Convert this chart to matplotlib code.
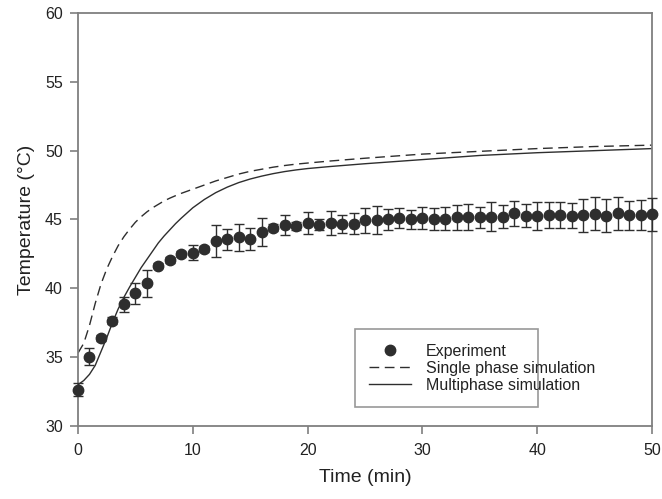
import matplotlib
matplotlib.use("Agg")
import matplotlib.pyplot as plt
from matplotlib.lines import Line2D

plt.rcParams['font.family'] = ['Liberation Sans', 'DejaVu Sans']

# Measured temperatures (mean and half-width of error bar), one reading per minute
time_exp = list(range(0, 51))
temp_exp = [32.65, 35.03, 36.4, 37.65, 38.84, 39.64, 40.36, 41.64, 42.06, 42.5,
            42.6, 42.85, 43.46, 43.55, 43.7, 43.6, 44.1, 44.4, 44.6, 44.5,
            44.75, 44.6, 44.75, 44.67, 44.7, 44.95, 44.95, 45.0, 45.1, 45.0,
            45.1, 45.05, 45.05, 45.15, 45.15, 45.15, 45.2, 45.2, 45.45, 45.27,
            45.25, 45.3, 45.3, 45.27, 45.3, 45.4, 45.27, 45.45, 45.3, 45.35,
            45.37]
err_exp = [0.48, 0.6, 0.2, 0.25, 0.55, 0.75, 1.0, 0.2, 0.2, 0.2,
           0.55, 0.2, 1.15, 0.75, 1.0, 0.8, 1.0, 0.25, 0.75, 0.3,
           0.8, 0.4, 0.9, 0.65, 0.75, 0.9, 1.0, 0.75, 0.7, 0.7,
           0.8, 0.8, 0.85, 0.9, 0.95, 0.75, 1.05, 0.85, 0.9, 0.85,
           1.0, 0.95, 0.95, 0.9, 1.2, 1.2, 1.2, 1.2, 1.05, 1.1,
           1.2]

# Simulation curves
time_sim = [0, 0.5, 1, 1.5, 2, 2.5, 3, 3.5, 4, 4.5, 5, 5.5, 6, 6.5, 7, 7.5,
            8, 8.5, 9, 10, 11, 12, 13, 14, 15, 16, 17, 18, 19, 20, 22, 25,
            30, 35, 40, 45, 50]
temp_single = [35.3, 36.0, 37.3, 38.9, 40.3, 41.4, 42.3, 43.1, 43.75, 44.3,
               44.8, 45.2, 45.55, 45.85, 46.1, 46.35, 46.55, 46.73, 46.9,
               47.2, 47.5, 47.8, 48.05, 48.3, 48.5, 48.65, 48.8, 48.92,
               49.02, 49.1, 49.25, 49.45, 49.75, 49.95, 50.15, 50.3, 50.4]
temp_multi = [33.0, 33.3, 33.75, 34.4, 35.4, 36.4, 37.5, 38.5, 39.35, 40.1,
              40.8, 41.5, 42.1, 42.7, 43.3, 43.8, 44.25, 44.7, 45.1, 45.85,
              46.45, 46.95, 47.35, 47.68, 47.94, 48.15, 48.33, 48.48, 48.6,
              48.7, 48.85, 49.05, 49.35, 49.65, 49.85, 50.0, 50.15]

x_ticks = [0, 10, 20, 30, 40, 50]
y_ticks = [30, 35, 40, 45, 50, 55, 60]

ink = '#2e2e2e'
spine_gray = '#7f7f7f'
text_col = '#222222'
dash_pattern = (0, (7, 4))

fig = plt.figure(figsize=(6.62, 4.99), dpi=100)
ax = fig.add_axes([0.1178, 0.1463, 0.985 - 0.1178, 0.974 - 0.1463])

ax.plot(time_sim, temp_single, linestyle=dash_pattern, color=ink, lw=1.0)
ax.plot(time_sim, temp_multi, linestyle='-', color=ink, lw=1.0)
ax.errorbar(time_exp, temp_exp, yerr=err_exp, fmt='o', color=ink, ms=7.5,
            ecolor=ink, elinewidth=1.0, capsize=3.8, capthick=1.0,
            zorder=3, clip_on=False)

ax.set_xlim(0, 50)
ax.set_ylim(30, 60)
ax.set_xticks(x_ticks)
ax.set_yticks(y_ticks)

for s in ax.spines.values():
    s.set_color(spine_gray)
    s.set_linewidth(1.3)

ax.tick_params(axis='both', which='both', direction='out', length=6,
               width=1.2, color=spine_gray, labelsize=11.5, labelcolor=text_col,
               top=False, right=False)
ax.tick_params(axis='x', pad=6)
ax.tick_params(axis='y', pad=5)

ax.set_xlabel('Time (min)', fontsize=14, color=text_col, labelpad=8)
ax.set_ylabel('Temperature (°C)', fontsize=14, color=text_col, labelpad=7)

legend_handles = [
    Line2D([], [], linestyle='none', marker='o', ms=7.5, color=ink),
    Line2D([], [], linestyle=dash_pattern, lw=1.0, color=ink),
    Line2D([], [], linestyle='-', lw=1.0, color=ink),
]
legend_labels = ['Experiment', 'Single phase simulation', 'Multiphase simulation']
leg = ax.legend(legend_handles, legend_labels,
                loc='lower left', bbox_to_anchor=(0.4826, 0.046, 0.319, 0.194),
                mode='expand', borderaxespad=0, fontsize=11.5, frameon=True,
                fancybox=False, handlelength=2.6, borderpad=0.9,
                labelspacing=0.12, handletextpad=0.95)
leg.get_frame().set_edgecolor(spine_gray)
leg.get_frame().set_linewidth(1.2)
for t in leg.get_texts():
    t.set_color(text_col)

fig.savefig('out.png', dpi=100)
